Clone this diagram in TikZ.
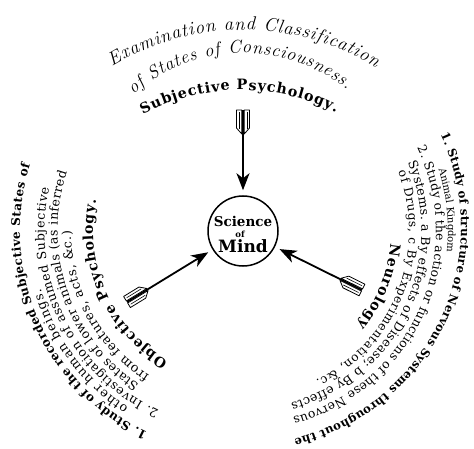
\documentclass[tikz,border=0pt]{standalone}
\usepackage{fontspec}
\newfontfamily\heavy{DejaVu Serif}
\usetikzlibrary{decorations.text,arrows.meta}
\newcommand{\fsz}[1]{\fontsize{#1}{#1}\selectfont}
\tikzset{
  arctext/.style={decorate, decoration={text along path, text align=fit to path, text={#1}}},
  shaft/.style={line width=1.8pt, -{Stealth[length=17pt,width=13pt,inset=5pt]}, shorten >=5pt},
  vane/.style={draw, fill=white, line width=0.8pt, line join=round},
  ring/.style={circle, draw, line width=1.5pt, minimum size=70pt, inner sep=0pt},
  word/.style={anchor=base, inner sep=0pt},
}
\newcommand{\arcline}[5]{\path[arctext={#5}] ([shift={(#2:#3)}]#1) arc[start angle=#2, end angle=#4, radius=#3];}
\begin{document}
\begin{tikzpicture}[x=1pt,y=1pt]
\useasboundingbox (0,0) rectangle (474,448);
\fill[white] (0,0) rectangle (474,448);

% centre
\node[ring] (mind) at (243,217) {};
\node[word, font=\heavy\bfseries\fsz{13.5}] (sci) at (243,222) {Science};
\node[word, font=\heavy\bfseries\fsz{8.5}] (ofw) at (240,211) {of};
\node[word, font=\heavy\bfseries\fsz{17}] (mindw) at (243,196) {Mind};

% arrows
\coordinate (ttail) at (243,338);
\coordinate (ltail) at (127,146);
\coordinate (rtail) at (362,158);
\draw[shaft] (ttail) -- (mind);
\draw[shaft] (ltail) -- (mind);
\draw[shaft] (rtail) -- (mind);
\foreach \tl/\a in {ttail/-90,ltail/31.5,rtail/153.6}{
  \begin{scope}[shift={(\tl)},rotate=\a]
    \draw[vane] (0,1.2) -- (0,6.5) -- (18,6.5) -- (24,1.2) -- cycle;
    \draw[vane] (0,-1.2) -- (0,-6.5) -- (18,-6.5) -- (24,-1.2) -- cycle;
    \draw[line width=0.6pt] (2,3.8) -- (19,3.8) (2,-3.8) -- (19,-3.8);
  \end{scope}
}

% top
\arcline{243,165}{121.2}{253}{58.4}{|\fsz{18.8}\itshape|Examination and Classification}
\arcline{243,230}{131.6}{165}{50.9}{|\fsz{18.3}\itshape|of States of Consciousness.}
\arcline{241,149}{118}{209}{63}{|\heavy\bfseries\fsz{14.3}|Subjective Psychology.}

% left
\arcline{243,217}{244.7}{223}{162.8}{|\heavy\bfseries\fsz{12}|1. Study of the recorded Subjective States of}
\arcline{243,217}{237}{210.5}{196}{|\heavy\fsz{12.6}|other human beings.}
\arcline{243,217}{245}{198.5}{167.5}{|\heavy\fsz{12.5}|2. Investigation of assumed Subjective}
\arcline{243,217}{236}{185.5}{161.5}{|\heavy\fsz{12.5}|States of lower animals (as inferred}
\arcline{243,217}{237}{172}{180}{|\heavy\fsz{12.7}|from features, acts, {\&}c.)}
\arcline{243,217}{240}{150}{168}{|\heavy\bfseries\fsz{14}|Objective Psychology.}

% right
\arcline{243,221}{25}{218}{-76.5}{|\heavy\bfseries\fsz{11.7}|1. Study of structure of Nervous Systems throughout the}
\arcline{243,217}{17.5}{205}{-6}{|\heavy\fsz{10}|Animal Kingdom.}
\arcline{243,217}{25.5}{193}{-75}{|\heavy\fsz{12.3}|2. Study of the action or functions of these Nervous}
\arcline{243,217}{22.5}{178.5}{-74.5}{|\heavy\fsz{12.5}|Systems. a By effects of Disease; b By effects}
\arcline{243,217}{21}{166}{-64}{|\heavy\fsz{12.1}|of Drugs, c By Experimentation, {\&}c.}
\arcline{243,217}{-5}{148}{-39.5}{|\heavy\bfseries\fsz{14.2}|Neurology}
\end{tikzpicture}
\end{document}
